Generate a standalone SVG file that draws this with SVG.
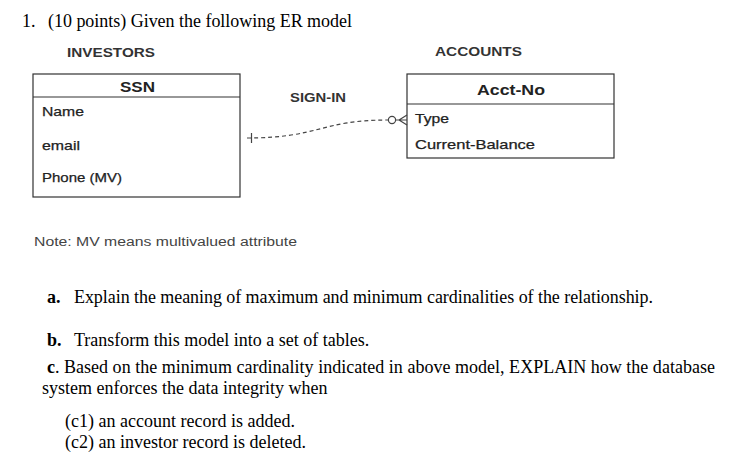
<svg xmlns="http://www.w3.org/2000/svg" width="745" height="459" viewBox="0 0 745 459">
<style>
.q{font-family:"Liberation Serif","Times New Roman",serif;font-size:18px;fill:#000}
.b{font-weight:bold}
.lbl{font-family:"Liberation Sans",Arial,sans-serif;font-size:13px;font-weight:bold;fill:#333}
.hdr{font-family:"Liberation Sans",Arial,sans-serif;font-weight:bold;fill:#222}
.att{font-family:"Liberation Sans",Arial,sans-serif;font-size:13px;fill:#222;stroke:#222;stroke-width:0.25}
.note{font-family:"Liberation Sans",Arial,sans-serif;font-size:12px;fill:#444}
.box{fill:#fff;stroke:#333;stroke-width:1.2}
.conn{fill:none;stroke:#444;stroke-width:1.2}
</style>
<rect width="745" height="459" fill="#fff"/>
<text class="q" x="22" y="27">1.</text>
<text class="q" x="48" y="27" textLength="304" lengthAdjust="spacing">(10 points) Given the following ER model</text>

<g id="investors">
<text class="lbl" x="67" y="57" textLength="88" lengthAdjust="spacingAndGlyphs">INVESTORS</text>
<rect class="box" x="33" y="74" width="207" height="123"/>
<line class="box" x1="33" y1="97" x2="240" y2="97"/>
<text class="hdr" x="120" y="92" font-size="14" textLength="35" lengthAdjust="spacingAndGlyphs">SSN</text>
<text class="att" x="42" y="116" textLength="42" lengthAdjust="spacingAndGlyphs">Name</text>
<text class="att" x="42" y="150" textLength="38" lengthAdjust="spacingAndGlyphs">email</text>
<text class="att" x="42" y="182" textLength="80" lengthAdjust="spacingAndGlyphs">Phone (MV)</text>
</g>

<g id="accounts">
<text class="lbl" x="435" y="56" textLength="87" lengthAdjust="spacingAndGlyphs">ACCOUNTS</text>
<rect class="box" x="407" y="74" width="207" height="84"/>
<line class="box" x1="407" y1="104" x2="614" y2="104"/>
<text class="hdr" x="477" y="95" font-size="15" textLength="68" lengthAdjust="spacingAndGlyphs">Acct-No</text>
<text class="att" x="415" y="123" textLength="34" lengthAdjust="spacingAndGlyphs">Type</text>
<text class="att" x="415" y="149" textLength="120" lengthAdjust="spacingAndGlyphs">Current-Balance</text>
</g>

<g id="connectors">
<text class="lbl" x="290" y="102" textLength="56" lengthAdjust="spacingAndGlyphs">SIGN-IN</text>
<path class="conn" stroke-dasharray="4 3" d="M247,138 C320,138 320,120 388,120"/>
<line class="conn" x1="251.5" y1="133" x2="251.5" y2="143"/>
<circle class="conn" cx="392" cy="120" r="3.6"/>
<path class="conn" d="M396,120 L407,120 M399,120 L407,115 M399,120 L407,125"/>
</g>

<text class="note" x="34" y="246" textLength="263" lengthAdjust="spacingAndGlyphs">Note: MV means multivalued attribute</text>

<text class="q b" x="47" y="303">a.</text>
<text class="q" x="74" y="303" textLength="579" lengthAdjust="spacing">Explain the meaning of maximum and minimum cardinalities of the relationship.</text>
<text class="q b" x="47" y="346">b.</text>
<text class="q" x="74" y="346">Transform this model into a set of tables.</text>
<text class="q" x="47" y="373"><tspan class="b">c</tspan>.</text>
<text class="q" x="64" y="373" textLength="651" lengthAdjust="spacing">Based on the minimum cardinality indicated in above model, EXPLAIN how the database</text>
<text class="q" x="42" y="394">system enforces the data integrity when</text>
<text class="q" x="65" y="427">(c1) an account record is added.</text>
<text class="q" x="65" y="448">(c2) an investor record is deleted.</text>
</svg>
